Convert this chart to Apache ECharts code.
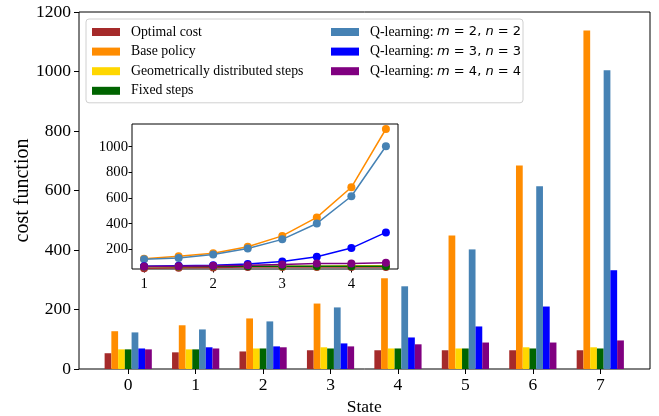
<!DOCTYPE html>
<html>
<head>
<meta charset="utf-8">
<script src="https://cdn.jsdelivr.net/npm/echarts@6/dist/echarts.min.js"></script>
<style>html,body{margin:0;padding:0;background:#fff}#c{width:659px;height:416px}</style>
</head>
<body>
<div id="c"></div>
<script>
// ---- data ----
var states = ['0', '1', '2', '3', '4', '5', '6', '7'];
var insetX = [1, 1.5, 2, 2.5, 3, 3.5, 4, 4.5];
var seriesNames = ['Optimal cost', 'Base policy', 'Geometrically distributed steps', 'Fixed steps',
  'Q-learning: m = 2, n = 2', 'Q-learning: m = 3, n = 3', 'Q-learning: m = 4, n = 4'];
var optimalCost = [53, 56, 59, 63, 63, 63, 63, 63];
var basePolicy = [127, 147, 170, 220, 305, 449, 684, 1138];
var geometricSteps = [66, 66, 69, 73, 69, 69, 73, 73];
var fixedSteps = [66, 66, 69, 69, 69, 69, 69, 69];
var qLearning22 = [123, 133, 160, 207, 278, 402, 614, 1004];
var qLearning33 = [69, 73, 76, 86, 106, 143, 210, 332];
var qLearning44 = [66, 69, 73, 76, 83, 89, 89, 96];
var mainYTicks = [0, 200, 400, 600, 800, 1000, 1200];
var insetXTicks = [1, 2, 3, 4];
var insetYTicks = [200, 400, 600, 800, 1000];

var allValues = [optimalCost, basePolicy, geometricSteps, fixedSteps, qLearning22, qLearning33, qLearning44];
var colors = ['#a52a2a', '#ff8c00', '#ffd700', '#006400', '#4682b4', '#0000ff', '#800080'];
var serif = 'Liberation Serif';
function plain(v) { return String(v); }

var series = [];
allValues.forEach(function (vals, i) {
  series.push({
    type: 'bar', name: seriesNames[i], xAxisIndex: 1, yAxisIndex: 1,
    data: vals, barWidth: '10%', barGap: '0%',
    itemStyle: { color: colors[i] }
  });
});
allValues.forEach(function (vals, i) {
  series.push({
    type: 'line', name: seriesNames[i], xAxisIndex: 2, yAxisIndex: 2,
    data: vals.map(function (v, k) { return [insetX[k], v]; }),
    symbol: 'circle', symbolSize: 8, showSymbol: true,
    lineStyle: { color: colors[i], width: 1.5 },
    itemStyle: { color: colors[i] }, z: 5
  });
});

function legendFmt(name) {
  var m = name.match(/^Q-learning: m = (\d), n = (\d)$/);
  if (!m) return name;
  return '{t|Q-learning: }{i|m}{s| = ' + m[1] + ', }{i|n}{s| = ' + m[2] + '}';
}
var legendRich = {
  t: { fontFamily: serif, fontSize: 13.8, color: '#000' },
  i: { fontFamily: 'DejaVu Sans', fontStyle: 'italic', fontSize: 13, color: '#000' },
  s: { fontFamily: 'DejaVu Sans', fontSize: 13, color: '#000' }
};

var option = {
  animation: false,
  backgroundColor: '#fff',
  grid: [
    { left: 79, right: 9, top: 12, bottom: 47, outerBoundsMode: 'none', containLabel: false,
      show: true, borderColor: '#000', borderWidth: 1, backgroundColor: 'transparent' },
    { left: 94.5, width: 539.5, top: 12, bottom: 47, outerBoundsMode: 'none', containLabel: false },
    { left: 132, top: 124, width: 266, height: 145, outerBoundsMode: 'none', containLabel: false,
      show: true, borderColor: '#000', borderWidth: 1, backgroundColor: '#fff', z: 3 }
  ],
  xAxis: [
    { gridIndex: 0, type: 'value', show: false, min: 0, max: 1 },
    { gridIndex: 1, type: 'category', data: states,
      axisLine: { show: false },
      axisTick: { show: true, alignWithLabel: true, length: 5, lineStyle: { color: '#000' } },
      axisLabel: { fontFamily: serif, fontSize: 17.5, color: '#000', margin: 7 },
      name: 'State', nameLocation: 'middle', nameGap: 25,
      nameTextStyle: { fontFamily: serif, fontSize: 17.5, color: '#000' } },
    { gridIndex: 2, type: 'value', min: 0.825, max: 4.675,
      axisLine: { show: false }, splitLine: { show: false },
      axisTick: { show: true, length: 3.5, customValues: insetXTicks, lineStyle: { color: '#000' } },
      axisLabel: { fontFamily: serif, fontSize: 14.7, color: '#000', margin: 8, customValues: insetXTicks, formatter: plain } }
  ],
  yAxis: [
    { gridIndex: 0, type: 'value', min: 0, max: 1200, interval: 200,
      axisLine: { show: false }, splitLine: { show: false },
      axisTick: { show: true, length: 5, lineStyle: { color: '#000' } },
      axisLabel: { fontFamily: serif, fontSize: 17.5, color: '#000', margin: 8,
        customValues: mainYTicks, formatter: plain },
      name: 'cost function', nameLocation: 'middle', nameGap: 46, nameRotate: 90, nameMoveOverlap: false,
      nameTextStyle: { fontFamily: serif, fontSize: 20, color: '#000' } },
    { gridIndex: 1, type: 'value', min: 0, max: 1200, show: false },
    { gridIndex: 2, type: 'value', min: 47, max: 1177,
      axisLine: { show: false }, splitLine: { show: false },
      axisTick: { show: true, length: 3.5, customValues: insetYTicks, lineStyle: { color: '#000' } },
      axisLabel: { fontFamily: serif, fontSize: 14.7, color: '#000', margin: 4, customValues: insetYTicks, formatter: plain } }
  ],
  legend: [
    { data: seriesNames.slice(0, 4), orient: 'vertical', left: 86, top: 19,
      padding: [6, 192, 5, 6], itemWidth: 28, itemHeight: 8, itemGap: 5.6, icon: 'rect',
      backgroundColor: 'rgba(255,255,255,0.8)', borderColor: '#d0d0d0', borderWidth: 1, borderRadius: 3,
      formatter: legendFmt,
      textStyle: { fontFamily: serif, fontSize: 13.8, color: '#000', lineHeight: 14, width: 200, padding: [0, 0, 0, 6], rich: legendRich } },
    { data: seriesNames.slice(4), orient: 'vertical', left: 331, top: 25,
      padding: 0, itemWidth: 28, itemHeight: 8, itemGap: 5.6, icon: 'rect',
      formatter: legendFmt,
      textStyle: { fontFamily: serif, fontSize: 13.8, color: '#000', lineHeight: 14, padding: [0, 0, 0, 6], rich: legendRich } }
  ],
  series: series
};

var chart = echarts.init(document.getElementById('c'), null, { renderer: 'canvas' });
chart.setOption(option);
</script>
</body>
</html>
